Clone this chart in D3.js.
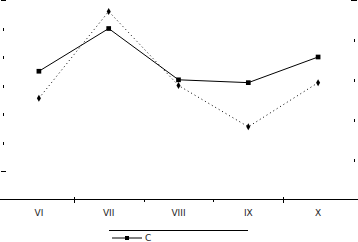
<!DOCTYPE html>
<html>
<head>
<meta charset="utf-8">
<script src="https://cdn.jsdelivr.net/npm/d3@7"></script>
<style>
  body { margin: 0; background: #fff; }
  svg { display: block; }
  text { font-family: "DejaVu Sans", sans-serif; font-size: 9px; fill: #222; }
</style>
</head>
<body>
<svg width="358" height="242"></svg>
<script>
var months = ["VI", "VII", "VIII", "IX", "X"];
var seriesC = [45, 60, 42, 41, 50];
var seriesD = [35.5, 66, 40, 25.5, 41];
var leftTicks = [10, 20, 30, 40, 50, 60, 70];
var rightTicks = [1, 2, 3, 4, 5];

var svg = d3.select("svg");

var x = d3.scaleBand().domain(months).range([4, 353]);
var y = d3.scaleLinear().domain([0, 70]).range([199.5, 0]);
var yRight = d3.scaleLinear().domain([0, 5]).range([199.5, 0]);

// 左の目盛り（ラベルは画面外）
svg.selectAll(".lt")
  .data(leftTicks)
  .enter()
  .append("line")
  .attr("class", "lt")
  .attr("shape-rendering", "crispEdges")
  .attr("stroke", "black")
  .attr("x1", function (d) { return (d == 70 || d == 10) ? 1 : 3.5; })
  .attr("x2", function (d) { return (d == 70 || d == 10) ? 6 : 3.5; })
  .attr("y1", function (d) { return (d == 70 || d == 10) ? Math.round(y(d)) + 0.5 : Math.round(y(d)) - 1; })
  .attr("y2", function (d) { return (d == 70 || d == 10) ? Math.round(y(d)) + 0.5 : Math.round(y(d)) + 2; });

// 右の目盛り
svg.selectAll(".rt")
  .data(rightTicks)
  .enter()
  .append("line")
  .attr("class", "rt")
  .attr("shape-rendering", "crispEdges")
  .attr("stroke", "black")
  .attr("x1", function (d) { return d == 5 ? 351 : 354.5; })
  .attr("x2", function (d) { return d == 5 ? 357 : 354.5; })
  .attr("y1", function (d) { return d == 5 ? 0.5 : Math.round(yRight(d)) - 1; })
  .attr("y2", function (d) { return d == 5 ? 0.5 : Math.round(yRight(d)) + 2; });

// x軸
svg.append("line")
  .attr("shape-rendering", "crispEdges")
  .attr("stroke", "black")
  .attr("x1", 0).attr("x2", 358)
  .attr("y1", 199.5).attr("y2", 199.5);

svg.selectAll(".xt")
  .data(months.slice(1))
  .enter()
  .append("line")
  .attr("class", "xt")
  .attr("shape-rendering", "crispEdges")
  .attr("stroke", "black")
  .attr("x1", function (d) { return Math.round(x(d)) + 0.5; })
  .attr("x2", function (d) { return Math.round(x(d)) + 0.5; })
  .attr("y1", function (d, i) { return (i == 0 || i == 3) ? 197 : 199; })
  .attr("y2", function (d, i) { return (i == 0 || i == 3) ? 203 : 202; });

svg.selectAll(".xl")
  .data(months)
  .enter()
  .append("text")
  .attr("class", "xl")
  .attr("x", function (d) { return x(d) + x.bandwidth() / 2; })
  .attr("y", 216)
  .attr("text-anchor", "middle")
  .text(function (d) { return d; });

// 系列
var line = d3.line()
  .x(function (d, i) { return x(months[i]) + x.bandwidth() / 2; })
  .y(function (d) { return y(d); });

svg.append("path")
  .datum(seriesD)
  .attr("fill", "none")
  .attr("stroke", "black")
  .attr("stroke-width", 1)
  .attr("stroke-dasharray", "1,3")
  .attr("d", line);

svg.append("path")
  .datum(seriesC)
  .attr("fill", "none")
  .attr("stroke", "black")
  .attr("stroke-width", 1)
  .attr("d", line);

svg.selectAll(".md")
  .data(seriesD)
  .enter()
  .append("path")
  .attr("class", "md")
  .attr("d", d3.symbol().type(d3.symbolDiamond).size(14))
  .attr("fill", "black")
  .attr("transform", function (d, i) { return "translate(" + (x(months[i]) + x.bandwidth() / 2) + "," + y(d) + ")"; });

svg.selectAll(".mc")
  .data(seriesC)
  .enter()
  .append("path")
  .attr("class", "mc")
  .attr("d", d3.symbol().type(d3.symbolSquare).size(22))
  .attr("fill", "black")
  .attr("transform", function (d, i) { return "translate(" + (x(months[i]) + x.bandwidth() / 2) + "," + y(d) + ")"; });

// 凡例（下が切れている）
svg.append("line")
  .attr("shape-rendering", "crispEdges")
  .attr("stroke", "black")
  .attr("x1", 109).attr("x2", 248)
  .attr("y1", 230.5).attr("y2", 230.5);

var ly = 238;
svg.append("line")
  .attr("stroke", "black")
  .attr("x1", 112).attr("x2", 142)
  .attr("y1", ly).attr("y2", ly);
svg.append("path")
  .attr("d", d3.symbol().type(d3.symbolSquare).size(16))
  .attr("fill", "black")
  .attr("transform", "translate(127," + ly + ")");
svg.append("text")
  .attr("x", 145)
  .attr("y", ly + 3)
  .attr("font-size", "8px")
  .text("C");
</script>
</body>
</html>
